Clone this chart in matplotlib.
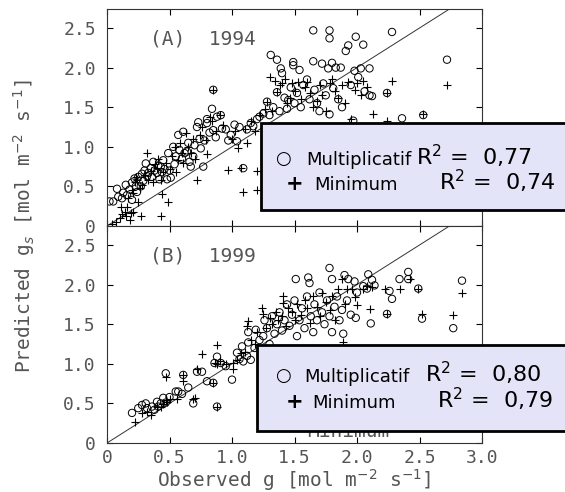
import matplotlib.pyplot as plt
from matplotlib.patches import Rectangle

# 1994 - modele multiplicatif (cercles)
mult94_x = [0.02, 0.05, 0.08, 0.09, 0.12, 0.13, 0.15, 0.16, 0.18, 0.20, 0.20, 0.22, 0.23, 0.24, 0.25, 0.27,
            0.28, 0.29, 0.30, 0.31, 0.32, 0.33, 0.35, 0.36, 0.37, 0.38, 0.40, 0.41, 0.42, 0.43, 0.44, 0.45,
            0.46, 0.48, 0.49, 0.50, 0.51, 0.53, 0.54, 0.55, 0.57, 0.58, 0.60, 0.61, 0.62, 0.64, 0.65, 0.66,
            0.67, 0.69, 0.70, 0.72, 0.73, 0.74, 0.75, 0.77, 0.78, 0.80, 0.80, 0.82, 0.84, 0.85, 0.85, 0.87,
            0.88, 0.91, 0.92, 0.95, 0.97, 0.99, 1.02, 1.04, 1.06, 1.09, 1.12, 1.15, 1.17, 1.20, 1.22, 1.25,
            1.28, 1.30, 1.31, 1.33, 1.36, 1.36, 1.38, 1.39, 1.40, 1.42, 1.44, 1.45, 1.47, 1.49, 1.49, 1.50,
            1.52, 1.54, 1.55, 1.57, 1.60, 1.62, 1.65, 1.65, 1.66, 1.68, 1.70, 1.72, 1.73, 1.75, 1.77, 1.78,
            1.78, 1.78, 1.80, 1.81, 1.83, 1.85, 1.87, 1.88, 1.91, 1.93, 1.95, 1.97, 1.98, 1.99, 2.01, 2.03,
            2.05, 2.06, 2.10, 2.10, 2.12, 2.24, 2.28, 2.36, 2.53, 2.72]
mult94_y = [0.31, 0.31, 0.47, 0.37, 0.35, 0.42, 0.52, 0.39, 0.46, 0.33, 0.55, 0.60, 0.50, 0.43, 0.62, 0.50,
            0.66, 0.57, 0.70, 0.79, 0.63, 0.67, 0.73, 0.62, 0.81, 0.70, 0.67, 0.76, 0.59, 0.75, 0.68, 0.83,
            0.72, 0.59, 0.92, 0.70, 0.61, 1.00, 0.78, 0.88, 1.15, 0.96, 0.85, 1.19, 0.92, 0.94, 1.05, 0.81,
            0.75, 0.88, 1.02, 1.25, 1.31, 1.10, 0.98, 0.75, 1.08, 1.30, 1.35, 1.18, 1.48, 1.21, 1.72, 1.12,
            1.38, 1.40, 1.23, 1.22, 1.08, 1.15, 1.28, 1.07, 1.25, 0.73, 1.22, 1.30, 1.26, 1.35, 1.38, 1.42,
            1.57, 1.40, 2.16, 1.50, 2.10, 1.69, 1.45, 1.99, 1.93, 1.62, 1.48, 1.59, 1.75, 2.07, 2.03, 1.55,
            1.68, 1.97, 1.50, 1.78, 1.85, 1.60, 2.47, 2.08, 1.72, 1.55, 1.45, 2.05, 1.80, 1.65, 1.99, 2.47,
            2.37, 1.41, 2.06, 1.74, 2.00, 1.60, 2.00, 1.50, 2.21, 2.28, 1.78, 1.33, 1.96, 2.39, 1.88, 1.99,
            2.29, 1.70, 1.99, 1.65, 1.64, 1.68, 2.45, 1.36, 1.40, 2.10]

# 1994 - modele minimum (croix)
min94_x = [0.04, 0.07, 0.10, 0.11, 0.12, 0.14, 0.15, 0.16, 0.17, 0.18, 0.19, 0.20, 0.21, 0.21, 0.22, 0.23,
           0.24, 0.25, 0.26, 0.27, 0.28, 0.30, 0.32, 0.33, 0.35, 0.37, 0.38, 0.40, 0.41, 0.43, 0.43, 0.44,
           0.45, 0.47, 0.49, 0.50, 0.52, 0.54, 0.55, 0.57, 0.58, 0.60, 0.61, 0.63, 0.65, 0.67, 0.69, 0.70,
           0.72, 0.74, 0.76, 0.79, 0.80, 0.82, 0.84, 0.85, 0.87, 0.90, 0.93, 0.97, 1.00, 1.02, 1.05, 1.07,
           1.09, 1.10, 1.12, 1.15, 1.18, 1.20, 1.20, 1.22, 1.26, 1.28, 1.30, 1.32, 1.34, 1.36, 1.38, 1.40,
           1.42, 1.44, 1.46, 1.48, 1.50, 1.53, 1.55, 1.58, 1.60, 1.62, 1.65, 1.68, 1.70, 1.72, 1.75, 1.78,
           1.80, 1.82, 1.85, 1.88, 1.90, 1.93, 1.95, 1.98, 2.00, 2.03, 2.05, 2.08, 2.13, 2.24, 2.24, 2.28,
           2.53, 2.72]
min94_y = [0.02, 0.05, 0.10, 0.24, 0.15, 0.18, 0.12, 0.24, 0.35, 0.08, 0.16, 0.45, 0.18, 0.42, 0.55, 0.62,
           0.58, 0.30, 0.48, 0.13, 0.52, 0.65, 0.92, 0.58, 0.70, 0.55, 0.78, 0.73, 0.85, 0.58, 0.13, 0.40,
           0.68, 0.80, 0.30, 0.72, 0.88, 1.00, 0.68, 0.83, 1.05, 0.92, 0.79, 1.18, 1.00, 0.92, 1.10, 0.85,
           0.58, 1.15, 1.25, 1.08, 0.91, 1.38, 1.32, 1.72, 1.20, 1.40, 1.28, 0.71, 1.10, 1.20, 0.98, 0.73,
           0.43, 1.22, 1.05, 1.32, 1.20, 0.45, 0.69, 1.40, 1.48, 1.57, 1.88, 1.45, 1.83, 1.69, 1.78, 1.80,
           1.85, 1.55, 1.62, 1.80, 1.70, 1.82, 1.60, 1.75, 1.82, 1.68, 1.50, 1.58, 1.78, 1.65, 1.45, 1.80,
           1.85, 1.70, 1.62, 1.78, 1.55, 1.82, 1.35, 1.72, 1.80, 1.65, 1.83, 1.75, 1.41, 1.33, 1.68, 1.83,
           1.41, 1.78]

# 1999 - modele multiplicatif (cercles)
mult99_x = [0.20, 0.25, 0.28, 0.31, 0.32, 0.36, 0.38, 0.40, 0.41, 0.43, 0.45, 0.47, 0.47, 0.50, 0.55, 0.57,
            0.60, 0.61, 0.65, 0.69, 0.72, 0.76, 0.80, 0.85, 0.86, 0.88, 0.88, 0.91, 0.95, 1.00, 1.04, 1.06,
            1.08, 1.09, 1.12, 1.13, 1.13, 1.15, 1.18, 1.19, 1.22, 1.25, 1.26, 1.28, 1.30, 1.32, 1.34, 1.36,
            1.38, 1.40, 1.42, 1.44, 1.46, 1.48, 1.50, 1.51, 1.52, 1.54, 1.56, 1.58, 1.60, 1.61, 1.62, 1.63,
            1.65, 1.66, 1.68, 1.70, 1.72, 1.74, 1.76, 1.78, 1.78, 1.80, 1.80, 1.82, 1.84, 1.86, 1.88, 1.89,
            1.90, 1.92, 1.93, 1.95, 1.98, 1.99, 2.00, 2.05, 2.08, 2.09, 2.11, 2.12, 2.14, 2.24, 2.26, 2.28,
            2.34, 2.41, 2.41, 2.49, 2.52, 2.77, 2.84]
mult99_y = [0.38, 0.44, 0.48, 0.50, 0.44, 0.46, 0.42, 0.52, 0.46, 0.50, 0.57, 0.88, 0.51, 0.58, 0.65, 0.65,
            0.62, 0.86, 0.70, 0.50, 0.90, 0.90, 0.78, 0.76, 1.01, 1.09, 0.46, 1.01, 0.97, 0.80, 1.14, 1.06,
            1.22, 1.03, 1.10, 1.27, 1.40, 1.05, 1.20, 1.43, 1.30, 1.35, 1.55, 1.45, 1.25, 1.60, 1.38, 1.50,
            1.65, 1.42, 1.55, 1.75, 1.48, 1.62, 1.80, 2.07, 1.35, 1.55, 1.70, 1.45, 1.85, 2.09, 2.02, 1.60,
            1.40, 1.75, 1.55, 1.90, 1.65, 1.50, 1.80, 2.21, 1.60, 2.07, 1.40, 1.72, 1.85, 1.55, 1.68, 1.38,
            2.12, 1.80, 2.07, 1.62, 2.04, 1.58, 1.90, 1.98, 1.95, 2.13, 1.51, 2.06, 1.99, 1.63, 1.92, 1.82,
            2.07, 2.16, 2.07, 1.95, 1.57, 1.45, 2.05]

# 1999 - modele minimum (croix)
min99_x = [0.22, 0.28, 0.32, 0.35, 0.40, 0.43, 0.45, 0.47, 0.48, 0.47, 0.50, 0.56, 0.61, 0.61, 0.69, 0.70,
           0.72, 0.76, 0.85, 0.86, 0.88, 0.88, 0.88, 0.90, 0.95, 1.01, 1.01, 1.04, 1.07, 1.10, 1.12, 1.13,
           1.15, 1.18, 1.20, 1.24, 1.25, 1.27, 1.30, 1.32, 1.35, 1.37, 1.40, 1.41, 1.41, 1.43, 1.45, 1.48,
           1.50, 1.52, 1.55, 1.58, 1.60, 1.62, 1.65, 1.68, 1.70, 1.72, 1.75, 1.78, 1.80, 1.82, 1.85, 1.88,
           1.89, 1.90, 1.92, 1.96, 1.98, 2.00, 2.05, 2.08, 2.10, 2.12, 2.22, 2.24, 2.34, 2.42, 2.49, 2.52,
           2.77, 2.84]
min99_y = [0.27, 0.38, 0.39, 0.35, 0.45, 0.46, 0.49, 0.54, 0.52, 0.83, 0.55, 0.55, 0.78, 0.86, 0.55, 0.57,
           0.93, 1.13, 0.76, 1.01, 1.24, 1.00, 0.46, 1.03, 1.00, 1.01, 0.93, 1.05, 1.14, 1.15, 1.48, 1.54,
           1.30, 1.25, 1.40, 1.71, 1.63, 1.45, 1.58, 1.50, 1.65, 1.55, 1.60, 1.86, 1.77, 1.48, 1.70, 1.65,
           1.55, 1.75, 1.62, 1.80, 1.70, 1.52, 1.85, 1.72, 1.60, 1.90, 1.78, 1.68, 1.85, 1.55, 1.95, 2.07,
           1.27, 1.75, 1.94, 1.94, 1.84, 1.74, 1.95, 1.98, 1.69, 1.97, 1.94, 1.63, 1.94, 2.07, 1.95, 1.63,
           1.61, 1.89]

titres = ["(A)  1994", "(B)  1999"]
r2_mult = ["0,77", "0,80"]
r2_min = ["0,74", "0,79"]

W, H = 565, 492
gris = '#555555'
mono = 'DejaVu Sans Mono'

fig = plt.figure(figsize=(W / 100, H / 100), dpi=100)
ax_top = fig.add_axes([107 / W, 1 - 226 / H, 375 / W, 217 / H])
ax_bot = fig.add_axes([107 / W, 1 - 443 / H, 375 / W, 217 / H])

series = [(mult94_x, mult94_y, min94_x, min94_y), (mult99_x, mult99_y, min99_x, min99_y)]
for ax, titre, (mx, my, nx, ny) in zip([ax_top, ax_bot], titres, series):
    ax.plot([0, 3], [0, 3], color='#333333', lw=0.7, zorder=1)
    ax.scatter(mx, my, s=28, facecolors='none', edgecolors='black', linewidths=0.7, zorder=2)
    ax.scatter(nx, ny, s=40, marker='+', color='black', linewidths=0.8, zorder=3)
    ax.set_xlim(0, 3)
    ax.set_ylim(0, 2.74)
    ax.set_xticks([0, 0.5, 1.0, 1.5, 2.0, 2.5, 3.0])
    ax.set_yticks([0, 0.5, 1.0, 1.5, 2.0, 2.5])
    ax.set_yticklabels(['0', '0.5', '1.0', '1.5', '2.0', '2.5'])
    ax.tick_params(direction='in', length=4, width=0.8, top=True, right=True,
                   labelsize=13, labelcolor=gris)
    ax.tick_params(axis='y', pad=8)
    ax.tick_params(axis='x', pad=4)
    for lab in ax.get_yticklabels() + ax.get_xticklabels():
        lab.set_family(mono)
    for sp in ax.spines.values():
        sp.set_linewidth(0.8)
        sp.set_color('#333333')
    ax.text(0.34, 2.36, titre, family=mono, fontsize=14, color=gris, va='center')

ax_top.tick_params(labelbottom=False)
ax_bot.set_xticklabels(['0', '0.5', '1.0', '1.5', '2.0', '2.5', '3.0'])
ax_bot.text(1.6, 0.07, 'Minimum', family=mono, fontsize=14, color=gris, zorder=0)

fig.text(294 / W, 1 - 480 / H, 'Observed g [mol m$^{-2}$ s$^{-1}$]', family=mono,
         fontsize=14, color=gris, ha='center', va='center')
fig.text(24 / W, 1 - 226 / H, 'Predicted g$_s$ [mol m$^{-2}$ s$^{-1}$]', family=mono,
         fontsize=14, color=gris, ha='center', va='center', rotation=90)

# boites de legende (positions en pixels)
boites = [dict(x0=261, haut=123, bas=210, b1=165, b2=190, mot=306, r1=416, r2=439),
          dict(x0=257, haut=345, bas=431, b1=382, b2=408, mot=304, r1=425, r2=437)]
for i, b in enumerate(boites):
    fig.patches.append(Rectangle((b['x0'] / W, 1 - b['bas'] / H), 1.0, (b['bas'] - b['haut']) / H,
                                 transform=fig.transFigure, facecolor='#E4E4F8',
                                 edgecolor='black', lw=2, zorder=5))
    y1 = 1 - b['b1'] / H
    y2 = 1 - b['b2'] / H
    fig.text(283 / W, y1 + 0.002, '\u25cb', fontsize=13, ha='center', va='baseline', zorder=6)
    fig.text(b['mot'] / W, y1, 'Multiplicatif', fontsize=13, va='baseline', zorder=6)
    fig.text(b['r1'] / W, y1, 'R$^2$ =  ' + r2_mult[i], fontsize=16, va='baseline', zorder=6)
    fig.text(295 / W, y2, '+', fontsize=15, fontweight='bold', ha='center', va='baseline', zorder=6)
    fig.text((b['mot'] + 8) / W, y2, 'Minimum', fontsize=13, va='baseline', zorder=6)
    fig.text(b['r2'] / W, y2, 'R$^2$ =  ' + r2_min[i], fontsize=16, va='baseline', zorder=6)

plt.savefig('out.png', dpi=100)
plt.close()
